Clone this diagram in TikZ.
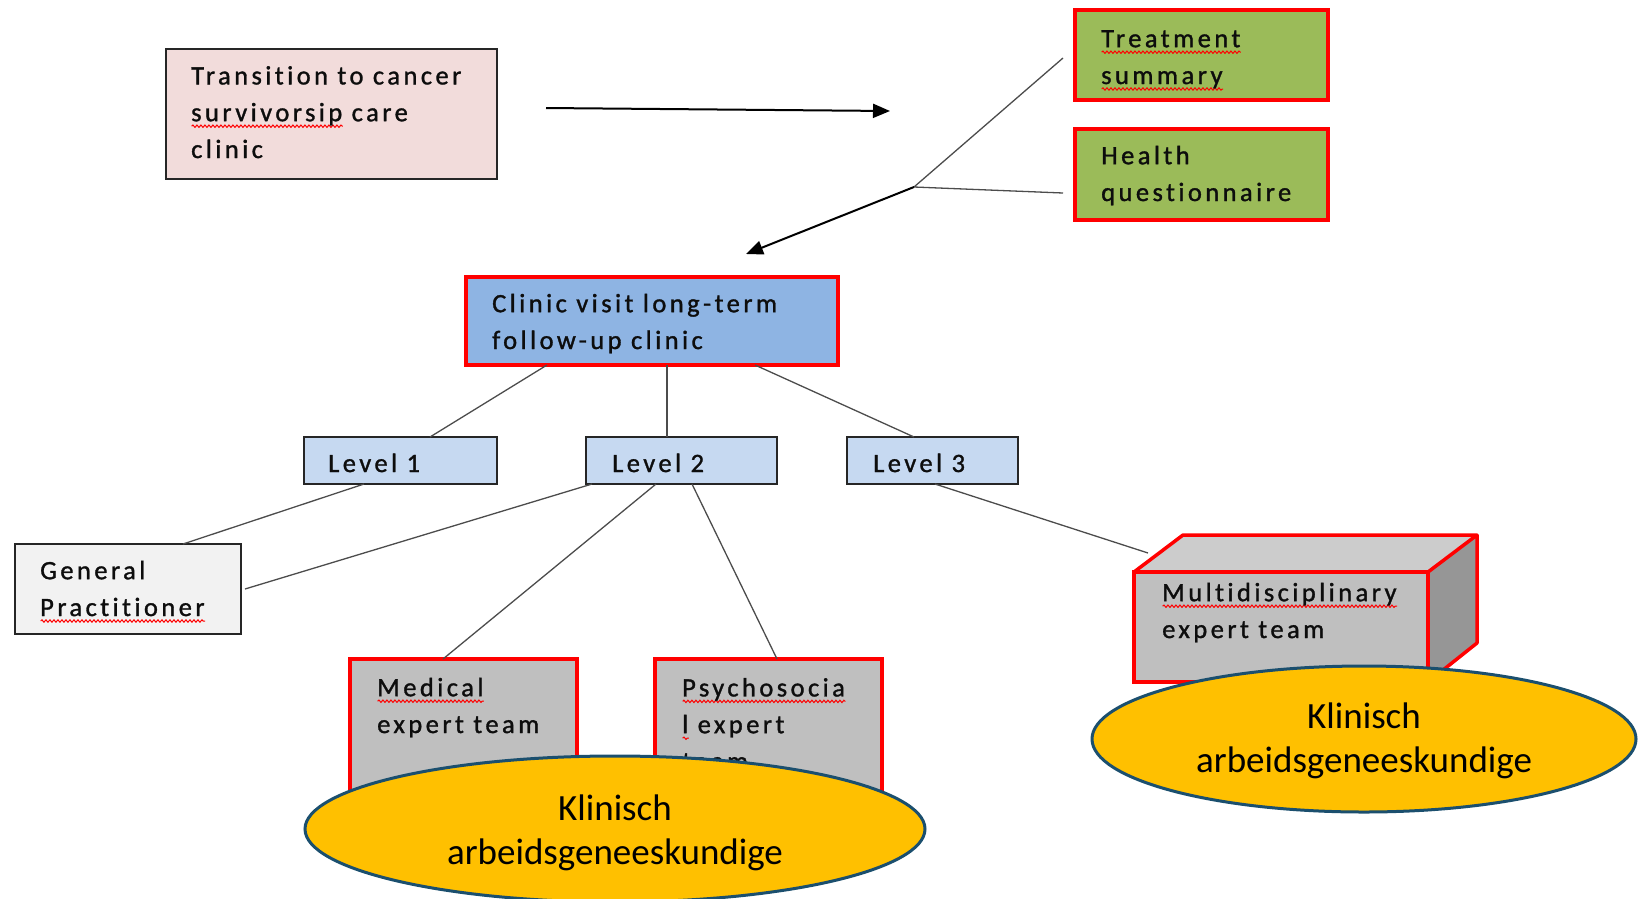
\documentclass[tikz,border=0pt]{standalone}
\usepackage{fontspec}
\setmainfont{Carlito}[LetterSpace=13, FakeBold=1.2, RawFeature=-liga]
\newfontfamily\calfont{Carlito}
\usetikzlibrary{arrows.meta,calc,shapes.geometric,decorations.pathmorphing}
\newdimen\sqw
\newcommand\sq[1]{\setbox0=\hbox{#1}\sqw=\wd0\relax\rlap{\tikz[baseline=0pt,x=1pt,y=1pt]\draw[red,line width=1pt,decorate,decoration={snake,amplitude=1.2pt,segment length=4pt}] (0,-5) -- (\sqw,-5);}#1}
\definecolor{pinkf}{HTML}{F2DCDB}
\definecolor{greenf}{HTML}{9BBB59}
\definecolor{bluef}{HTML}{8EB4E3}
\definecolor{lblue}{HTML}{C6D9F1}
\definecolor{gpf}{HTML}{F2F2F2}
\definecolor{grayf}{HTML}{BFBFBF}
\definecolor{topf}{HTML}{CCCCCC}
\definecolor{sidef}{HTML}{969696}
\definecolor{goldf}{HTML}{FFC000}
\definecolor{ellb}{HTML}{1B4F6E}
\begin{document}
\begin{tikzpicture}[x=1pt,y=-1pt,
  box/.style={anchor=north west, inner sep=0pt, outer sep=0pt},
  blackedge/.style={draw=black!85, line width=1.5pt},
  rededge/.style={draw=red, line width=3.5pt},
  txt/.style={anchor=base west, align=left, inner sep=0pt, text=black!95, font=\fontsize{26.5}{36.8}\selectfont},
  conn/.style={draw=black!70, line width=1.3pt},
  arr/.style={draw=black, line width=2pt, -{Triangle[length=17pt,width=14pt]}},
  ell/.style={ellipse, draw=ellb, line width=3pt, fill=goldf, inner sep=0pt},
  elltxt/.style={anchor=base, align=center, inner sep=0pt, font=\calfont\fontsize{37}{44}\selectfont}
]
\useasboundingbox (0,0) rectangle (1641,898);

% boxes
\node[box, blackedge, fill=pinkf, minimum width=331pt, minimum height=130pt] (trans) at (166,49) {};
\node[box, rededge, fill=greenf, minimum width=253pt, minimum height=90pt] (treat) at (1075,10) {};
\node[box, rededge, fill=greenf, minimum width=253pt, minimum height=91pt] (health) at (1075,129) {};
\node[box, rededge, fill=bluef, minimum width=372pt, minimum height=88pt] (clinic) at (466,277) {};
\node[box, blackedge, line width=1.3pt, fill=lblue, minimum width=193pt, minimum height=47pt] (lev1) at (304,437) {};
\node[box, blackedge, line width=1.3pt, fill=lblue, minimum width=191pt, minimum height=47pt] (lev2) at (586,437) {};
\node[box, blackedge, line width=1.3pt, fill=lblue, minimum width=171pt, minimum height=47pt] (lev3) at (847,437) {};
\node[box, blackedge, fill=gpf, minimum width=226pt, minimum height=90pt] (gp) at (15,544) {};
\node[box, rededge, fill=grayf, minimum width=227pt, minimum height=160pt] (med) at (350,659) {};
\node[box, rededge, fill=grayf, minimum width=227pt, minimum height=160pt] (psy) at (655,659) {};

% 3D box
\coordinate (mA) at (1134,572);
\coordinate (mB) at (1428,572);
\coordinate (mC) at (1477,535);
\coordinate (mD) at (1183,535);
\coordinate (mE) at (1477,643);
\coordinate (mF) at (1428,682);
\coordinate (mtop) at (1148,553);
\fill[topf] (mA) -- (mB) -- (mC) -- (mD) -- cycle;
\fill[sidef] (mB) -- (mC) -- (mE) -- (mF) -- cycle;
\node[box, rededge, fill=grayf, minimum width=294pt, minimum height=110pt] (multi) at (mA) {};
\draw[red, line width=3.5pt, line join=round] (mA) -- (mD) -- (mC) -- (mB) (mC) -- (mE) -- (mF);

% texts (anchor at the baseline of the last line)
\node[txt] (ttrans) at (191,158) {Transition to cancer\\\sq{survivorsip} care\\clinic};
\node[txt] (ttreat) at (1101,84) {\sq{Treatment}\\\sq{summary}};
\node[txt] (thealth) at (1101,201) {Health\\questionnaire};
\node[txt] (tclinic) at (492,349) {Clinic visit long-term\\follow-up clinic};
\node[txt] (tlev1) at (328,472) {Level 1};
\node[txt] (tlev2) at (612,472) {Level 2};
\node[txt] (tlev3) at (873,472) {Level 3};
\node[txt] (tgp) at (40,616) {General\\\sq{Practitioner}};
\node[txt] (tmed) at (377,733) {\sq{Medical}\\expert team};
\node[txt] (tpsy) at (682,770) {\sq{Psychosocia}\\\sq{l} expert\\team};
\node[txt] (tmulti) at (1162,638) {\sq{Multidisciplinary}\\expert team};

% connectors
\coordinate (arrA) at (546,108);
\coordinate (arrB) at (890,111);
\coordinate (jn) at (914,187);
\coordinate (jt) at (1063,58);
\coordinate (jh) at (1063,193);
\coordinate (arrC) at (746,254);
\draw[arr] (arrA) -- (arrB);
\draw[conn] (jt) -- (jn) -- (jh);
\draw[arr] (jn) -- (arrC);
\draw[conn] ([xshift=81pt]clinic.south west) -- ([xshift=126pt]lev1.north west);
\draw[conn] ([xshift=201pt]clinic.south west) -- ([xshift=81pt]lev2.north west);
\draw[conn] ([xshift=289pt]clinic.south west) -- ([xshift=67pt]lev3.north west);
\draw[conn] ([xshift=60pt]lev1.south west) -- ([xshift=168pt]gp.north west);
\draw[conn] ([xshift=6pt]lev2.south west) -- ([xshift=4pt]gp.east);
\draw[conn] ([xshift=70pt]lev2.south west) -- ([xshift=93pt]med.north west);
\draw[conn] ([xshift=106pt]lev2.south west) -- ([xshift=122pt]psy.north west);
\draw[conn] ([xshift=88pt]lev3.south west) -- (mtop);

% ellipses
\node[ell, minimum width=620pt, minimum height=146pt] (ell1) at (615,829) {};
\node[elltxt] (tell1) at (615,864) {Klinisch\\arbeidsgeneeskundige};
\node[ell, minimum width=544pt, minimum height=146pt] (ell2) at (1364,739) {};
\node[elltxt] (tell2) at (1364,772) {Klinisch\\arbeidsgeneeskundige};
\end{tikzpicture}
\end{document}
